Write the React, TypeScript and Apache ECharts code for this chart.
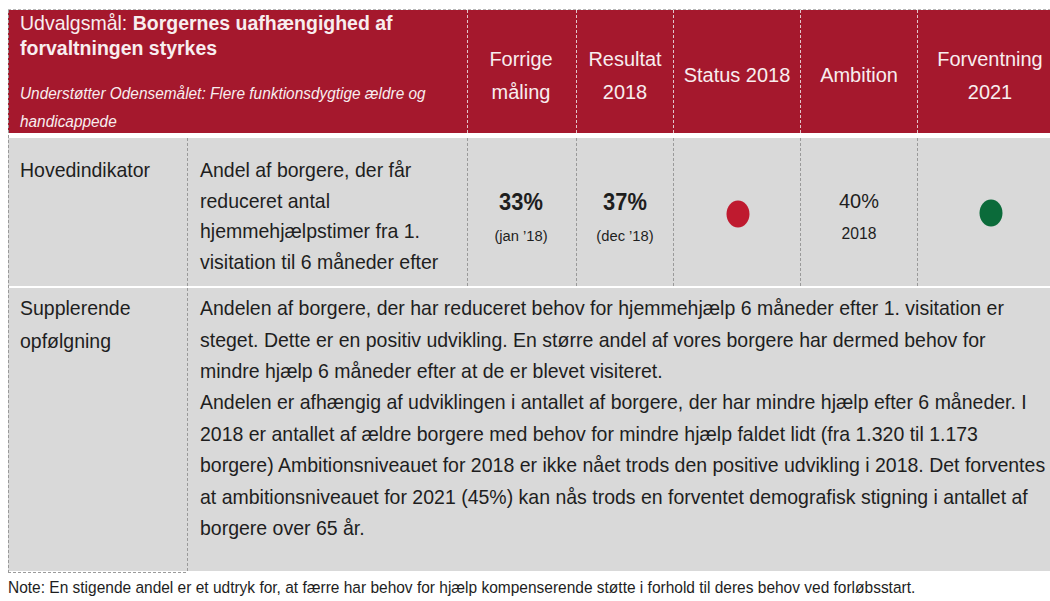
import React, { useEffect, useRef } from "react";
import * as echarts from "echarts";

// ---------- data ----------
const TITLE_PREFIX = "Udvalgsmål: ";
const TITLE_BOLD = ["Borgernes uafhængighed af", "forvaltningen styrkes"];
const SUBTITLE = ["Understøtter Odensemålet: Flere funktionsdygtige ældre og", "handicappede"];
const COLUMN_HEADERS = [["Forrige", "måling"], ["Resultat", "2018"], ["Status 2018"], ["Ambition"], ["Forventning", "2021"]];
const ROW_LABELS = [["Hovedindikator"], ["Supplerende", "opfølgning"]];
const INDICATOR_LINES = [
  "Andel af borgere, der får",
  "reduceret antal",
  "hjemmehjælpstimer fra 1.",
  "visitation til 6 måneder efter",
];
const RESULT_VALUES = ["33%", "37%"];
const RESULT_PERIODS = ["(jan ’18)", "(dec ’18)"];
const AMBITION = ["40%", "2018"];
const STATUS_COLORS = ["#BF1A2F", "#0B6B3A"]; // status 2018, forventning 2021
const FOLLOWUP_LINES = [
  "Andelen af borgere, der har reduceret behov for hjemmehjælp 6 måneder efter 1. visitation er",
  "steget. Dette er en positiv udvikling. En større andel af vores borgere har dermed behov for",
  "mindre hjælp 6 måneder efter at de er blevet visiteret.",
  "Andelen er afhængig af udviklingen i antallet af borgere, der har mindre hjælp efter 6 måneder. I",
  "2018 er antallet af ældre borgere med behov for mindre hjælp faldet lidt (fra 1.320 til 1.173",
  "borgere) Ambitionsniveauet for 2018 er ikke nået trods den positive udvikling i 2018. Det forventes",
  "at ambitionsniveauet for 2021 (45%) kan nås trods en forventet demografisk stigning i antallet af",
  "borgere over 65 år.",
];
const NOTE = "Note: En stigende andel er et udtryk for, at færre har behov for hjælp kompenserende støtte i forhold til deres behov ved forløbsstart.";

// ---------- layout ----------
const W = 1050;
const H = 601;
const RED = "#A5182D";
const GRAY = "#D9D9D9";
const HEAD_TXT = "#F8EDEF";
const TXT = "#1E1E1E";
const COLS = [8, 187, 467, 576, 673, 800, 917, 1063];
const COL_CENTERS = [521, 625, 737, 859, 990];
const STRETCH = 1.16;

function detectFont() {
  try {
    const c = document.createElement("canvas").getContext("2d")!;
    const s = "abcdefghijklmnopqrstuvwxyz ABCDEFG";
    c.font = "40px monospace";
    const w1 = c.measureText(s).width;
    c.font = "40px 'Liberation Sans Narrow', monospace";
    const w2 = c.measureText(s).width;
    if (Math.abs(w1 - w2) > 0.5) return { family: "'Liberation Sans Narrow'", sx: STRETCH };
  } catch (e) {}
  return { family: "'Liberation Sans', Arial, sans-serif", sx: 0.82 * STRETCH };
}

function measure(text: string, font: string) {
  const c = document.createElement("canvas").getContext("2d")!;
  c.font = font;
  return c.measureText(text).width;
}

function buildOption() {
  const F = detectFont();
  const els: any[] = [];
  const txt = (text: string, x: number, y: number, o: any = {}) => {
    els.push({
      type: "text",
      x,
      y,
      scaleX: F.sx * (o.sx || 1),
      z: 10,
      style: {
        text,
        fill: o.fill || TXT,
        fontSize: o.size || 20,
        fontFamily: F.family,
        fontWeight: o.weight || "normal",
        fontStyle: o.style || "normal",
        align: o.align || "left",
        verticalAlign: "middle",
        textAlign: o.align || "left",
        textVerticalAlign: "middle",
      },
    });
  };
  const vline = (x: number, y1: number, y2: number, color: string) =>
    els.push({ type: "line", z: 5, shape: { x1: x + 0.5, y1, x2: x + 0.5, y2 }, style: { stroke: color, lineWidth: 1, lineDash: [3, 2] } });
  const hline = (y: number, x1: number, x2: number, color: string) =>
    els.push({ type: "line", z: 5, shape: { x1, y1: y + 0.5, x2, y2: y + 0.5 }, style: { stroke: color, lineWidth: 1, lineDash: [3, 2] } });

  // backgrounds
  els.push({ type: "rect", shape: { x: COLS[0], y: 10, width: W - COLS[0], height: 123 }, style: { fill: RED } });
  els.push({ type: "rect", shape: { x: COLS[0], y: 138, width: W - COLS[0], height: 148 }, style: { fill: GRAY } });
  els.push({ type: "rect", shape: { x: COLS[0], y: 288, width: W - COLS[0], height: 283 }, style: { fill: GRAY } });

  // borders
  hline(9, COLS[0], W, "#B8B8B8");
  vline(COLS[0], 10, 573, "#9A9A9A");
  for (let i = 2; i < 7; i++) vline(COLS[i], 10, 133, "#E2C6CB");
  vline(COLS[1], 138, 573, "#9A9A9A");
  for (let i = 2; i < 7; i++) vline(COLS[i], 138, 286, "#9A9A9A");
  hline(572, COLS[0], COLS[1], "#9A9A9A");

  // header title
  const titleSize = 20.5;
  const prefW = measure(TITLE_PREFIX, `${titleSize}px ${F.family}`) * F.sx;
  txt(TITLE_PREFIX, 20, 23, { fill: HEAD_TXT, size: titleSize });
  txt(TITLE_BOLD[0], 20 + prefW, 23, { fill: HEAD_TXT, size: titleSize, weight: "bold" });
  txt(TITLE_BOLD[1], 20, 48, { fill: HEAD_TXT, size: titleSize, weight: "bold" });
  SUBTITLE.forEach((s, i) => txt(s, 20, 93 + i * 28, { fill: HEAD_TXT, size: 16.2, style: "italic" }));

  // column headers
  COLUMN_HEADERS.forEach((lines, i) => {
    const ys = lines.length === 2 ? [58, 91] : [74];
    lines.forEach((l, j) => txt(l, COL_CENTERS[i], ys[j], { fill: HEAD_TXT, size: 21, align: "center" }));
  });

  // row 1
  txt(ROW_LABELS[0][0], 20, 170, { size: 20.5 });
  INDICATOR_LINES.forEach((l, i) => txt(l, 200, 170 + i * 30.5, { size: 20.5 }));
  RESULT_VALUES.forEach((v, i) => {
    txt(v, COL_CENTERS[i], 202, { size: 23, weight: "bold", align: "center" });
    txt(RESULT_PERIODS[i], COL_CENTERS[i], 235, { size: 15.5, align: "center" });
  });
  txt(AMBITION[0], COL_CENTERS[3], 200, { size: 21, align: "center" });
  txt(AMBITION[1], COL_CENTERS[3], 233, { size: 16.5, align: "center" });
  els.push({ type: "ellipse", z: 10, shape: { cx: COL_CENTERS[2] + 1, cy: 214, rx: 11.5, ry: 13.5 }, style: { fill: STATUS_COLORS[0] } });
  els.push({ type: "ellipse", z: 10, shape: { cx: COL_CENTERS[4] + 1, cy: 213, rx: 11.5, ry: 13.5 }, style: { fill: STATUS_COLORS[1] } });

  // row 2
  ROW_LABELS[1].forEach((l, i) => txt(l, 20, 308 + i * 33, { size: 20.5 }));
  FOLLOWUP_LINES.forEach((l, i) => txt(l, 200, 308 + i * 31.4, { size: 20.5 }));

  // note
  txt(NOTE, 8, 587, { size: 16.3 });

  return { animation: false, backgroundColor: "#FFFFFF", graphic: { elements: els } };
}

export default function App() {
  const ref = useRef<HTMLDivElement>(null);
  useEffect(() => {
    if (!ref.current) return;
    const chart = echarts.init(ref.current, null, { renderer: "svg" });
    chart.setOption(buildOption());
    return () => chart.dispose();
  }, []);
  return <div ref={ref} style={{ position: "absolute", left: 0, top: 0, width: W, height: H }} />;
}
